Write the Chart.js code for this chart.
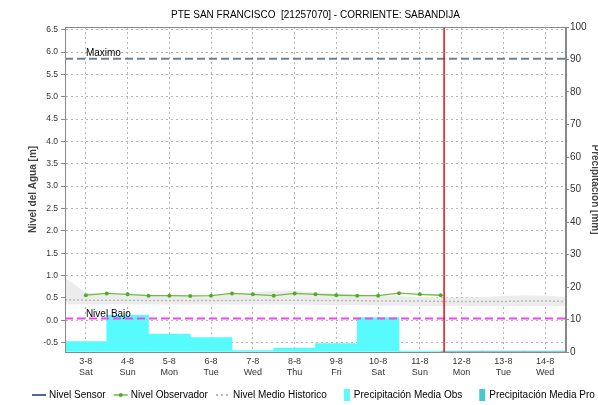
<!DOCTYPE html>
<html>
<head>
<meta charset="utf-8">
<script src="https://cdn.jsdelivr.net/npm/chart.js@4.4.0/dist/chart.umd.min.js"></script>
<style>
  html, body { margin: 0; padding: 0; background: #fff; }
  #contenedor { width: 598px; height: 405px; position: relative; }
</style>
</head>
<body>
<div id="contenedor"><canvas id="grafico"></canvas></div>
<script>
// dias del eje x
var dias = ['3-8', '4-8', '5-8', '6-8', '7-8', '8-8', '9-8', '10-8', '11-8', '12-8', '13-8', '14-8'];
var diasSemana = ['Sat', 'Sun', 'Mon', 'Tue', 'Wed', 'Thu', 'Fri', 'Sat', 'Sun', 'Mon', 'Tue', 'Wed'];

// nivel del agua [m], lecturas cada 12 h desde el 3-8 00h
var nivelObservador = [0.56, 0.60, 0.58, 0.55, 0.55, 0.545, 0.55, 0.60, 0.58, 0.55, 0.60, 0.58, 0.56, 0.55, 0.55, 0.605, 0.58, 0.56];
var nivelSensor = [];

// historico cada 12 h desde el 2-8 12h
var historicoMedio = [0.46, 0.45, 0.45, 0.45, 0.44, 0.44, 0.44, 0.44, 0.44, 0.45, 0.45, 0.45, 0.44, 0.44, 0.44, 0.43, 0.43, 0.43, 0.42, 0.42, 0.42, 0.42, 0.43, 0.43, 0.42];
var historicoMax = [0.95, 0.62, 0.58, 0.57, 0.56, 0.56, 0.55, 0.56, 0.58, 0.62, 0.66, 0.66, 0.62, 0.60, 0.58, 0.56, 0.54, 0.52, 0.51, 0.50, 0.52, 0.54, 0.56, 0.55, 0.52];
var historicoMin = [0.36, 0.36, 0.36, 0.36, 0.35, 0.35, 0.35, 0.35, 0.35, 0.35, 0.35, 0.35, 0.34, 0.34, 0.34, 0.33, 0.33, 0.32, 0.32, 0.32, 0.32, 0.32, 0.32, 0.32, 0.32];

// precipitacion diaria [mm]: observada hasta 11-8, pronostico despues
var precipObs = [3.2, 11.3, 5.5, 4.4, 0.4, 1.2, 2.6, 10.6, 0.3];
var precipPro = [0.3, 0.3, 0.3];

// niveles de referencia [m] y ultimo dato (en dias desde 3-8)
var nivelMaximo = 5.85;
var nivelBajoRef = 0.04;
var ultimoDato = 8.58;

// ticks de los ejes
var ticksNivel = [-0.5, 0, 0.5, 1, 1.5, 2, 2.5, 3, 3.5, 4, 4.5, 5, 5.5, 6, 6.5];
var ticksPrecip = [0, 10, 20, 30, 40, 50, 60, 70, 80, 90, 100];

function serie(valores, inicio) {
  return valores.map(function (v, i) { return {x: inicio + i / 2, y: v}; });
}
function barras(valores, inicio) {
  return valores.map(function (v, i) { return {x: inicio + i, y: v}; });
}

var FUENTE = "'Liberation Sans', Arial, sans-serif";
Chart.defaults.font.family = FUENTE;
Chart.defaults.color = '#444';

// lineas de referencia, corte y marco
var referencias = {
  id: 'referencias',
  afterDatasetsDraw: function (chart) {
    var ctx = chart.ctx, a = chart.chartArea;
    var x = chart.scales.x, y = chart.scales.y;
    ctx.save();
    ctx.beginPath();
    ctx.rect(a.left, a.top, a.right - a.left, a.bottom - a.top);
    ctx.clip();
    ctx.lineWidth = 2;
    ctx.setLineDash([8, 4]);
    ctx.strokeStyle = '#6f7f94';
    ctx.beginPath();
    ctx.moveTo(a.left, y.getPixelForValue(nivelMaximo));
    ctx.lineTo(a.right, y.getPixelForValue(nivelMaximo));
    ctx.stroke();
    ctx.strokeStyle = '#f046f0';
    ctx.beginPath();
    ctx.moveTo(a.left, y.getPixelForValue(nivelBajoRef));
    ctx.lineTo(a.right, y.getPixelForValue(nivelBajoRef));
    ctx.stroke();
    ctx.setLineDash([]);
    ctx.font = '10px ' + FUENTE;
    ctx.fillStyle = '#000';
    ctx.textBaseline = 'alphabetic';
    ctx.fillText('Maximo', x.getPixelForValue(0), y.getPixelForValue(nivelMaximo) - 2.5);
    ctx.fillText('Nivel Bajo', x.getPixelForValue(0), y.getPixelForValue(nivelBajoRef) - 1.5);
    // corte de datos observados
    ctx.strokeStyle = '#dd1111';
    ctx.lineWidth = 1.5;
    ctx.beginPath();
    ctx.moveTo(x.getPixelForValue(ultimoDato), a.top);
    ctx.lineTo(x.getPixelForValue(ultimoDato), a.bottom);
    ctx.stroke();
    ctx.restore();
    ctx.save();
    ctx.strokeStyle = '#888';
    ctx.lineWidth = 1;
    ctx.strokeRect(a.left + 0.5, a.top + 0.5, a.right - a.left - 1, a.bottom - a.top);
    ctx.restore();
  }
};

// leyenda en una sola fila
var leyenda = {
  id: 'leyenda',
  afterDraw: function (chart) {
    var ctx = chart.ctx;
    var yc = chart.height - 10;
    var px = 32;
    ctx.save();
    ctx.font = '10px ' + FUENTE;
    ctx.textBaseline = 'middle';
    chart.data.datasets.forEach(function (ds) {
      if (!ds.leyenda) return;
      if (ds.leyenda === 'caja') {
        px += 9;
        ctx.fillStyle = ds.backgroundColor;
        ctx.fillRect(px, yc - 6, 6, 12);
        px += 10;
      } else {
        ctx.strokeStyle = ds.borderColor;
        ctx.lineWidth = ds.leyenda === 'puntos' ? 2 : 1.5;
        ctx.setLineDash(ds.leyenda === 'puntos' ? [2, 3] : []);
        ctx.beginPath();
        ctx.moveTo(px, yc);
        ctx.lineTo(px + 14, yc);
        ctx.stroke();
        ctx.setLineDash([]);
        if (ds.leyenda === 'marca') {
          ctx.fillStyle = ds.pointBackgroundColor;
          ctx.beginPath();
          ctx.arc(px + 7, yc, 2, 0, Math.PI * 2);
          ctx.fill();
        }
        px += 17;
      }
      ctx.fillStyle = '#000';
      ctx.fillText(ds.label, px, yc);
      px += ctx.measureText(ds.label).width + 8;
    });
    ctx.restore();
  }
};

var grafico = new Chart(document.getElementById('grafico'), {
  type: 'line',
  data: {
    datasets: [
      {
        label: 'Nivel Sensor',
        data: serie(nivelSensor, 0),
        borderColor: '#1f2f86',
        borderWidth: 1.5,
        pointRadius: 0,
        leyenda: 'linea',
        order: 1
      },
      {
        label: 'Nivel Observador',
        data: serie(nivelObservador, 0),
        borderColor: '#6cbf3c',
        borderWidth: 1.3,
        pointRadius: 2,
        pointBackgroundColor: '#55a82c',
        pointBorderWidth: 0,
        leyenda: 'marca',
        order: 1
      },
      {
        label: 'Nivel Medio Historico',
        data: serie(historicoMedio, -0.5),
        borderColor: '#b8b8b8',
        borderWidth: 1.5,
        borderDash: [2, 2],
        pointRadius: 0,
        leyenda: 'puntos',
        order: 2
      },
      {
        label: 'Historico max',
        data: serie(historicoMax, -0.5),
        borderWidth: 0,
        pointRadius: 0,
        backgroundColor: '#ececec',
        fill: '+1',
        order: 3
      },
      {
        label: 'Historico min',
        data: serie(historicoMin, -0.5),
        borderWidth: 0,
        pointRadius: 0,
        order: 3
      },
      {
        type: 'bar',
        label: 'Precipitación Media Obs',
        data: barras(precipObs, 0),
        yAxisID: 'y1',
        backgroundColor: '#58fbfd',
        barPercentage: 1,
        categoryPercentage: 1,
        grouped: false,
        leyenda: 'caja',
        order: 4
      },
      {
        type: 'bar',
        label: 'Precipitación Media Pro',
        data: barras(precipPro, precipObs.length),
        yAxisID: 'y1',
        backgroundColor: '#48c8c8',
        barPercentage: 1,
        categoryPercentage: 1,
        grouped: false,
        leyenda: 'caja',
        order: 4
      }
    ]
  },
  options: {
    responsive: true,
    maintainAspectRatio: false,
    animation: false,
    layout: { padding: { bottom: 23 } },
    plugins: {
      legend: { display: false },
      tooltip: { enabled: false },
      title: {
        display: true,
        fullSize: false,
        text: 'PTE SAN FRANCISCO  [21257070] - CORRIENTE: SABANDIJA',
        color: '#000',
        font: { size: 10, weight: 'normal' },
        padding: { top: 9, bottom: 6 }
      }
    },
    scales: {
      x: {
        type: 'linear',
        min: -0.5,
        max: 11.5,
        offset: false,
        afterBuildTicks: function (s) {
          s.ticks = dias.map(function (d, i) { return {value: i}; });
        },
        afterFit: function (s) { s.height = 30; },
        ticks: {
          autoSkip: false,
          maxRotation: 0,
          padding: 4,
          font: { size: 9 },
          color: '#333',
          callback: function (v) { return [dias[v], diasSemana[v]]; }
        },
        grid: { offset: false, color: '#b4b4b4', drawTicks: false },
        border: { display: true, color: '#888', dash: [2, 3] }
      },
      y: {
        position: 'left',
        min: -0.71,
        max: 6.56,
        afterBuildTicks: function (s) {
          s.ticks = ticksNivel.map(function (v) { return {value: v}; });
        },
        afterFit: function (s) { s.width = 65; },
        ticks: {
          padding: 3,
          font: { size: 8.5 },
          color: '#333',
          callback: function (v) { return v.toFixed(1); }
        },
        grid: { color: '#b4b4b4', tickLength: 4, tickColor: '#888', tickBorderDash: [] },
        border: { display: true, color: '#888', dash: [2, 3] },
        title: {
          display: true,
          text: 'Nivel del Agua [m]',
          color: '#444',
          font: { size: 10, weight: 'bold' },
          padding: { top: 27 }
        }
      },
      y1: {
        position: 'right',
        min: 0,
        max: 100,
        afterBuildTicks: function (s) {
          s.ticks = ticksPrecip.map(function (v) { return {value: v}; });
        },
        afterFit: function (s) { s.width = 32; },
        ticks: { padding: 1, font: { size: 10 }, color: '#333' },
        grid: { drawOnChartArea: false, tickLength: 3, color: '#888' },
        border: { display: true, color: '#888' },
        title: {
          display: true,
          text: 'Precipitación [mm]',
          color: '#444',
          font: { size: 10, weight: 'bold' },
          padding: { top: -3 }
        }
      }
    }
  },
  plugins: [referencias, leyenda]
});
</script>
</body>
</html>
